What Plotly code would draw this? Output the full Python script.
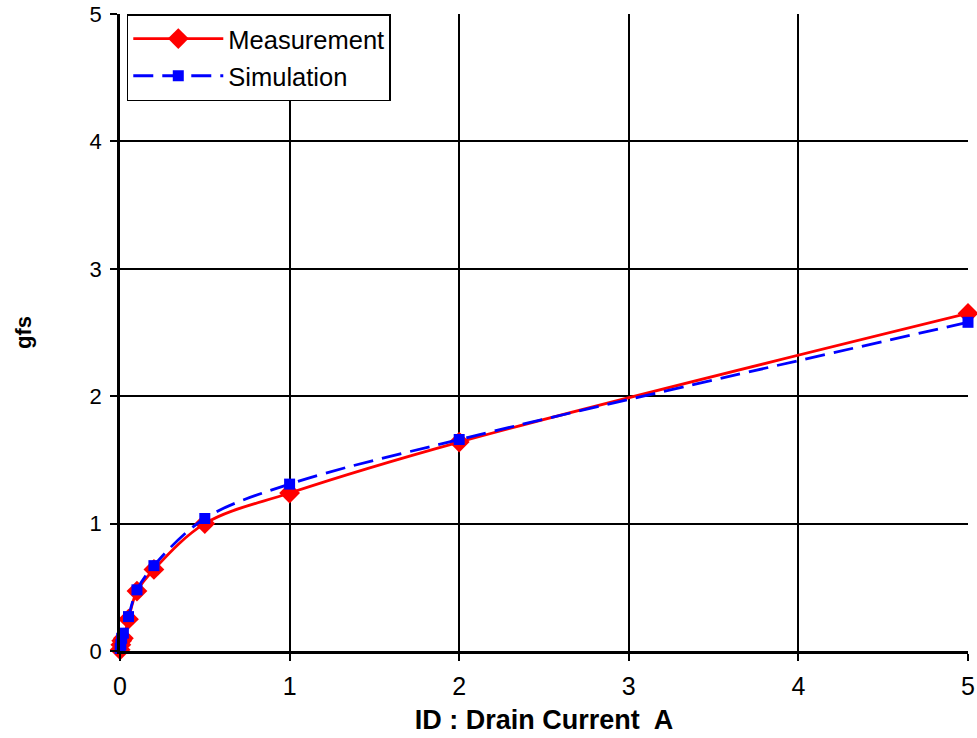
import plotly.graph_objects as go

meas_x = [0.001, 0.005, 0.01, 0.02, 0.05, 0.1, 0.2, 0.5, 1, 2, 5]
meas_y = [0.01, 0.05, 0.08, 0.1, 0.25, 0.47, 0.64, 1.0, 1.24, 1.64, 2.65]
sim_x = [0.001, 0.005, 0.01, 0.02, 0.05, 0.1, 0.2, 0.5, 1, 2, 5]
sim_y = [0.02, 0.05, 0.1, 0.14, 0.27, 0.48, 0.67, 1.04, 1.31, 1.66, 2.58]
tick_vals = [0, 1, 2, 3, 4, 5]
tick_text = ["0", "1", "2", "3", "4", "5"]

fig = go.Figure()
fig.add_trace(go.Scatter(
    x=meas_x, y=meas_y, name="Measurement", mode="lines+markers", legendgroup="a",
    line=dict(color="#ff0000", width=2.8, shape="spline", smoothing=1),
    marker=dict(symbol="diamond", size=16, color="#ff0000"),
    cliponaxis=False,
))
fig.add_trace(go.Scatter(
    x=sim_x, y=sim_y, name="Simulation", mode="lines+markers", legendgroup="b",
    line=dict(color="#0000ff", width=2.8, dash="20px,9px", shape="spline", smoothing=1),
    marker=dict(symbol="square", size=11, color="#0000ff"),
    cliponaxis=False,
))

fig.update_layout(
    width=977, height=738,
    margin=dict(l=120, r=9, t=14, b=87),
    paper_bgcolor="white", plot_bgcolor="white",
    font=dict(family="Liberation Sans, Arial, sans-serif", color="black", size=21),
    showlegend=True,
    legend=dict(
        x=0.008, y=1, xanchor="left", yanchor="top",
        bordercolor="black", borderwidth=1.5, bgcolor="white",
        font=dict(size=25.5), itemwidth=90, tracegroupgap=1,
    ),
    xaxis=dict(
        range=[0, 5], tickvals=tick_vals, ticktext=tick_text,
        showgrid=True, gridcolor="black", gridwidth=1.5,
        showline=True, linecolor="black", linewidth=2.5,
        ticks="outside", ticklen=7, tickcolor="black", tickwidth=1.5,
        tickfont=dict(size=25), ticklabelstandoff=4,
        zeroline=False, automargin=False,
        title=dict(text="<b>ID : Drain Current  A</b>", font=dict(size=27), standoff=12),
    ),
    yaxis=dict(
        range=[0, 5], tickvals=tick_vals, ticktext=tick_text,
        showgrid=True, gridcolor="black", gridwidth=1.5,
        showline=True, linecolor="black", linewidth=2.5,
        ticks="outside", ticklen=7, tickcolor="black", tickwidth=1.5,
        tickfont=dict(size=22), ticklabelstandoff=4,
        zeroline=False, automargin=False,
        title=dict(text="<b>gfs</b>", font=dict(size=22), standoff=52),
    ),
)

fig.write_html("out.html")
